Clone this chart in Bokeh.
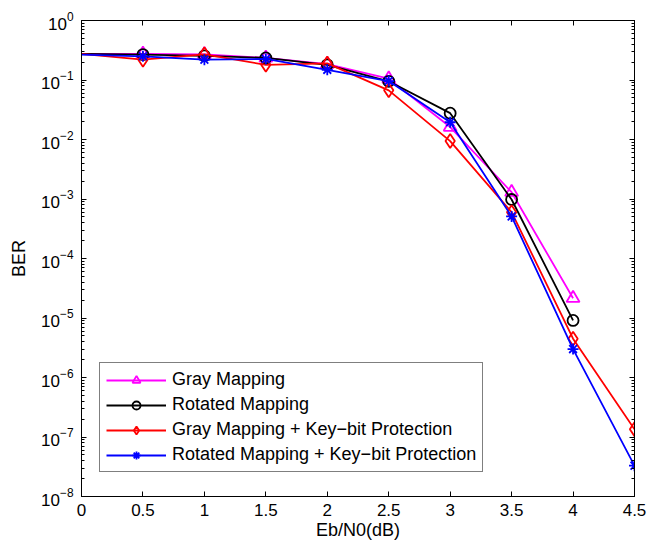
from bokeh.plotting import figure
from bokeh.models import (Range1d, FixedTicker, LinearAxis, LogAxis,
                          CustomJSTickFormatter, LogTickFormatter)
from bokeh.embed import file_html
from bokeh.resources import INLINE

# ---- data ----
ebn0 = [-0.5, 0.5, 1.0, 1.5, 2.0, 2.5, 3.0, 3.5, 4.0]
ebn0_kb = [-0.5, 0.5, 1.0, 1.5, 2.0, 2.5, 3.0, 3.5, 4.0, 4.5]
ber_gray = [0.275, 0.275, 0.27, 0.235, 0.185, 0.105, 0.0162, 1.3e-3, 2.15e-5]
ber_rot = [0.282, 0.268, 0.255, 0.235, 0.18, 0.095, 0.0277, 9.8e-4, 9.1e-6]
ber_gray_kb = [0.34, 0.22, 0.27, 0.18, 0.19, 0.067, 0.0094, 6.0e-4, 4.5e-6, 1.35e-7]
ber_rot_kb = [0.285, 0.25, 0.22, 0.226, 0.148, 0.096, 0.0195, 5.1e-4, 3.0e-6, 3.3e-8]

x_ticks = [0, 0.5, 1, 1.5, 2, 2.5, 3, 3.5, 4, 4.5]
y_exps = [0, -1, -2, -3, -4, -5, -6, -7, -8]

FONT = "Liberation Sans"

p = figure(width=656, height=544, x_range=Range1d(0, 4.5),
           y_range=Range1d(1e-8, 1), y_axis_type="log",
           output_backend="svg", toolbar_location=None,
           min_border_left=81, min_border_top=20, min_border_right=22,
           min_border_bottom=48)
p.outline_line_color = "black"
p.outline_line_width = 1
p.outline_line_alpha = 1.0
p.grid.visible = False

y_major = [10.0 ** e for e in y_exps]
y_minor = [m * 10.0 ** e for e in y_exps[1:] for m in range(2, 10)]

# bottom axis
xa = p.xaxis[0]
xa.ticker = FixedTicker(ticks=x_ticks, minor_ticks=[])
xa.formatter = CustomJSTickFormatter(code="return tick.toString();")
xa.axis_label = "Eb/N0(dB)"
xa.major_label_standoff = 7
xa.axis_label_standoff = 1
# left axis
ya = p.yaxis[0]
ya.ticker = FixedTicker(ticks=y_major, minor_ticks=y_minor)
ya.formatter = LogTickFormatter()
ya.axis_label = "BER"
ya.major_label_standoff = 8
ya.axis_label_standoff = 9

for ax in (xa, ya):
    ax.major_tick_in = 5
    ax.major_tick_out = 0
    ax.minor_tick_in = 3
    ax.minor_tick_out = 0
    ax.axis_line_color = "black"
    ax.axis_line_width = 1
    ax.major_tick_line_color = "black"
    ax.minor_tick_line_color = "black"
    ax.major_label_text_font = FONT
    ax.major_label_text_font_size = "17px"
    ax.major_label_text_color = "black"
    ax.axis_label_text_font = FONT
    ax.axis_label_text_font_size = "18px"
    ax.axis_label_text_font_style = "normal"
    ax.axis_label_text_color = "black"

# top and right axes (ticks only)
top = LinearAxis(ticker=FixedTicker(ticks=x_ticks, minor_ticks=[]),
                 formatter=CustomJSTickFormatter(code="return '';"))
right = LogAxis(ticker=FixedTicker(ticks=y_major, minor_ticks=y_minor),
                formatter=CustomJSTickFormatter(code="return '';"))
for ax in (top, right):
    ax.major_tick_in = 5
    ax.major_tick_out = 0
    ax.minor_tick_in = 3
    ax.minor_tick_out = 0
    ax.major_label_standoff = 0
    ax.major_label_text_font_size = "1px"
    ax.axis_line_color = "black"
    ax.major_tick_line_color = "black"
    ax.minor_tick_line_color = "black"
p.add_layout(top, "above")
p.add_layout(right, "right")

LW = 1.8
series = [
    (ebn0, ber_gray, "#ff00ff", "triangle", 13, "Gray Mapping"),
    (ebn0, ber_rot, "black", "circle", 11, "Rotated Mapping"),
    (ebn0_kb, ber_gray_kb, "#ff0000", "diamond", 14,
     "Gray Mapping + Key\u2212bit Protection"),
    (ebn0_kb, ber_rot_kb, "#0000ff", "asterisk", 11,
     "Rotated Mapping + Key\u2212bit Protection"),
]
for xs, ys, col, mk, sz, lab in series:
    p.line(xs, ys, line_color=col, line_width=LW, legend_label=lab)
    p.scatter(xs, ys, marker=mk, size=sz, line_color=col,
              fill_color=None, line_width=LW, legend_label=lab)

lg = p.legend[0]
lg.location = (18, 24)
lg.margin = 0
lg.padding = 6
lg.spacing = 4
lg.glyph_width = 60
lg.glyph_height = 20
lg.label_height = 20
lg.label_standoff = 6
lg.label_text_font = FONT
lg.label_text_font_size = "18px"
lg.label_text_color = "black"
lg.border_line_color = "black"
lg.border_line_width = 1
lg.background_fill_color = "white"
lg.background_fill_alpha = 1.0

open("out.html", "w").write(file_html(p, INLINE))
